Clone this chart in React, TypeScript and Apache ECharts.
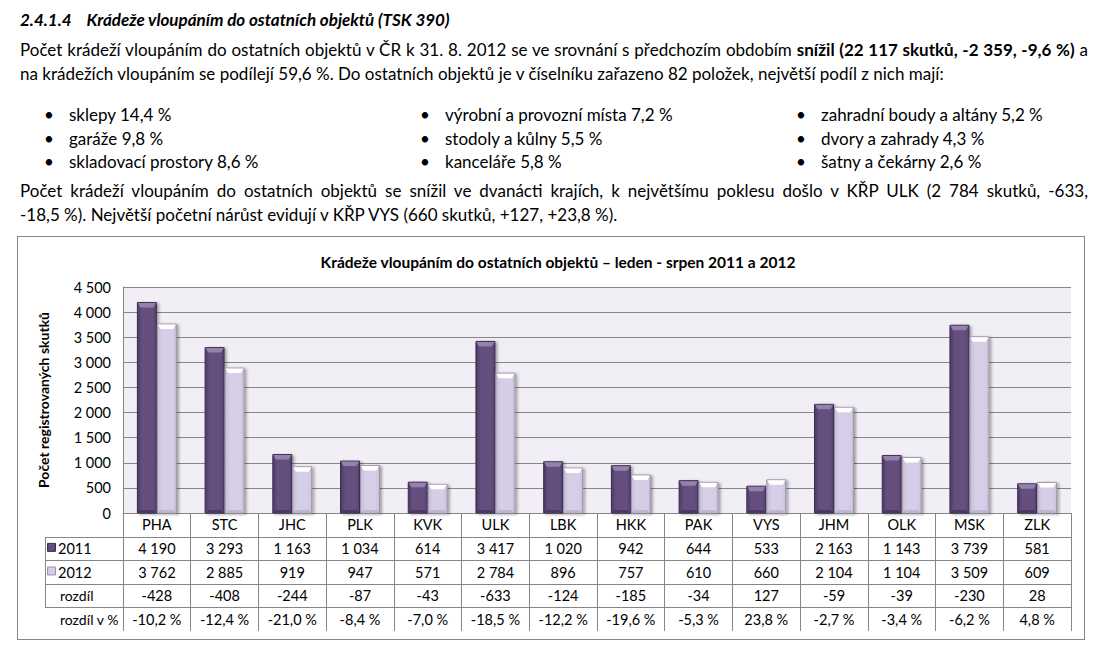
import React, { useEffect, useRef } from "react";
import * as echarts from "echarts";

const categories = ["PHA", "STC", "JHC", "PLK", "KVK", "ULK", "LBK", "HKK", "PAK", "VYS", "JHM", "OLK", "MSK", "ZLK"];
const values2011 = [4190, 3293, 1163, 1034, 614, 3417, 1020, 942, 644, 533, 2163, 1143, 3739, 581];
const values2012 = [3762, 2885, 919, 947, 571, 2784, 896, 757, 610, 660, 2104, 1104, 3509, 609];
const diffs = [-428, -408, -244, -87, -43, -633, -124, -185, -34, 127, -59, -39, -230, 28];
const diffPct = [-10.2, -12.4, -21.0, -8.4, -7.0, -18.5, -12.2, -19.6, -5.3, 23.8, -2.7, -3.4, -6.2, 4.8];
const rowLabels = ["2011", "2012", "rozdíl", "rozdíl v %"];
const seriesNames = ["2011", "2012"];
const yMax = 4500;
const yInterval = 500;

const chartTitle = "Krádeže vloupáním do ostatních objektů – leden - srpen 2011 a 2012";
const yAxisName = "Počet registrovaných skutků";

const FONT = "Lato, 'Open Sans', sans-serif";
const CHART_FS = 14.5;

const fmtInt = (n: number) => {
  const s = Math.abs(n).toString().replace(/\B(?=(\d{3})+(?!\d))/g, " ");
  return (n < 0 ? "-" : "") + s;
};
const fmtPct = (n: number) => n.toFixed(1).replace(".", ",") + " %";

// layout
const GRID_L = 123, GRID_R = 1071, GRID_T = 287, GRID_B = 513;
const ROW_H = 23.6;

const darkFill = () =>
  new echarts.graphic.LinearGradient(0, 0, 1, 0, [
    { offset: 0, color: "#4c3966" },
    { offset: 0.25, color: "#65507f" },
    { offset: 0.8, color: "#65507f" },
    { offset: 1, color: "#54416e" },
  ]);
const lightFill = () =>
  new echarts.graphic.LinearGradient(0, 0, 1, 0, [
    { offset: 0, color: "#c4bbd6" },
    { offset: 0.25, color: "#d6cee6" },
    { offset: 0.8, color: "#d6cee6" },
    { offset: 1, color: "#c9c0da" },
  ]);

function makeRender(which: number) {
  return (params: any, api: any) => {
    const idx = api.value(0);
    const val = api.value(1);
    const top = api.coord([idx, val]);
    const base = api.coord([idx, 0]);
    const band = api.size([1, 0])[0];
    const w = band * 0.28;
    const cx = top[0];
    const x0 = which === 0 ? cx - w - 0.5 : cx + 0.5;
    const ty = top[1];
    const h = base[1] - ty;
    const bev = Math.min(5, h / 2);
    const isDark = which === 0;
    return {
      type: "group",
      children: [
        {
          type: "rect",
          shape: { x: x0, y: ty, width: w, height: h },
          style: {
            fill: isDark ? darkFill() : lightFill(),
            stroke: isDark ? "#3b2d4f" : "#9c94ab",
            lineWidth: 1,
            shadowBlur: 3,
            shadowOffsetX: 2,
            shadowOffsetY: 1,
            shadowColor: "rgba(0,0,0,0.35)",
          },
        },
        {
          type: "polygon",
          shape: {
            points: [
              [x0 + 0.5, ty + 0.5],
              [x0 + w - 0.5, ty + 0.5],
              [x0 + w - 3, ty + bev],
              [x0 + 3, ty + bev],
            ],
          },
          style: { fill: isDark ? "#9482ad" : "#ffffff" },
        },
        {
          type: "polygon",
          shape: {
            points: [
              [x0 + 0.5, base[1] - 0.5],
              [x0 + w - 0.5, base[1] - 0.5],
              [x0 + w - 3, base[1] - 3],
              [x0 + 3, base[1] - 3],
            ],
          },
          style: { fill: isDark ? "#4a3863" : "#bfb5d0" },
        },
      ],
    };
  };
}

function Chart() {
  const ref = useRef<HTMLDivElement>(null);
  useEffect(() => {
    if (!ref.current) return;
    const chart = echarts.init(ref.current, null, { renderer: "svg" });
    const tableTop = GRID_B;
    const hLines: any[] = [];
    for (let k = 1; k <= rowLabels.length; k++) {
      const y = Math.round(tableTop + ROW_H * k) + 0.5;
      hLines.push({
        type: "line",
        shape: { x1: 45, y1: y, x2: GRID_R, y2: y },
        style: { stroke: "#868686", lineWidth: 1 },
      });
    }
    const leftLine = {
      type: "line",
      shape: {
        x1: 45.5,
        y1: Math.round(tableTop + ROW_H) + 0.5,
        x2: 45.5,
        y2: Math.round(tableTop + ROW_H * rowLabels.length) + 0.5,
      },
      style: { stroke: "#868686", lineWidth: 1 },
    };
    const rowTexts = rowLabels.map((t, i) => ({
      type: "text",
      x: i < 2 ? 58 : 60,
      y: tableTop + ROW_H * (i + 1) + ROW_H / 2,
      style: { text: t, fontSize: i < 2 ? CHART_FS : 14, fontFamily: FONT, fill: "#000", verticalAlign: "middle" },
    }));
    const markers = seriesNames.map((s, i) => ({
      type: "rect",
      shape: { x: 47.5, y: tableTop + ROW_H * (i + 1) + ROW_H / 2 - 5, width: 8, height: 8 },
      style: { fill: i === 0 ? darkFill() : lightFill(), stroke: i === 0 ? "#3b2d4f" : "#9c94ab", lineWidth: 1 },
    }));

    chart.setOption({
      animation: false,
      title: {
        text: chartTitle,
        left: 553,
        top: 249,
        textAlign: "center",
        textStyle: { fontFamily: FONT, fontSize: 15.5, fontWeight: "bold", color: "#000" },
      },
      grid: {
        left: GRID_L,
        right: 1110 - GRID_R,
        top: GRID_T,
        bottom: 659 - GRID_B,
        show: true,
        backgroundColor: "#f1eff5",
        borderWidth: 0,
      },
      xAxis: {
        type: "category",
        data: categories,
        axisLine: { show: true, lineStyle: { color: "#868686", width: 1 } },
        axisTick: {
          show: true,
          alignWithLabel: false,
          interval: 0,
          length: Math.round(ROW_H * 5),
          lineStyle: { color: "#868686", width: 1 },
        },
        axisLabel: {
          interval: 0,
          margin: 0,
          fontFamily: FONT,
          fontSize: CHART_FS,
          color: "#000",
          lineHeight: ROW_H,
          formatter: (value: string, idx: number) =>
            [value, fmtInt(values2011[idx]), fmtInt(values2012[idx]), fmtInt(diffs[idx]), fmtPct(diffPct[idx])].join("\n"),
        },
        splitLine: { show: false },
      },
      yAxis: {
        type: "value",
        min: 0,
        max: yMax,
        interval: yInterval,
        name: yAxisName,
        nameLocation: "middle",
        nameGap: 73,
        nameRotate: 90,
        nameTextStyle: { fontFamily: FONT, fontSize: 14, fontWeight: "bold", color: "#000" },
        axisLine: { show: true, lineStyle: { color: "#868686", width: 1 } },
        axisTick: { show: false },
        axisLabel: {
          fontFamily: FONT,
          fontSize: CHART_FS,
          color: "#000",
          margin: 12,
          formatter: (v: number) => fmtInt(v),
        },
        splitLine: { show: true, lineStyle: { color: "#878787", width: 1 } },
      },
      series: [
        {
          type: "custom",
          name: seriesNames[0],
          data: categories.map((c, i) => [i, values2011[i]]),
          encode: { x: 0, y: 1 },
          renderItem: makeRender(0),
          z: 3,
        },
        {
          type: "custom",
          name: seriesNames[1],
          data: categories.map((c, i) => [i, values2012[i]]),
          encode: { x: 0, y: 1 },
          renderItem: makeRender(1),
          z: 3,
        },
      ],
      graphic: [...hLines, leftLine, ...rowTexts, ...markers],
    });
    return () => chart.dispose();
  }, []);
  return <div ref={ref} style={{ position: "absolute", left: 0, top: 0, width: 1110, height: 659 }} />;
}

const textFont: React.CSSProperties = {
  fontFamily: FONT,
  fontSize: 17,
  color: "#000",
  whiteSpace: "nowrap",
  position: "absolute",
  lineHeight: "22px",
};

const Bullet = ({ x, y, text }: { x: number; y: number; text: string }) => (
  <>
    <div style={{ ...textFont, left: x, top: y - 11 }}>•</div>
    <div style={{ ...textFont, left: x + 25, top: y - 11 }}>{text}</div>
  </>
);

const bulletCols = [
  ["sklepy 14,4 %", "garáže 9,8 %", "skladovací prostory 8,6 %"],
  ["výrobní a provozní místa 7,2 %", "stodoly a kůlny 5,5 %", "kanceláře 5,8 %"],
  ["zahradní boudy a altány 5,2 %", "dvory a zahrady 4,3 %", "šatny a čekárny 2,6 %"],
];
const bulletX = [44, 420, 796];
const bulletY = [115, 139, 162];

export default function App() {
  const just: React.CSSProperties = { textAlign: "justify", textAlignLast: "justify", width: 1068, whiteSpace: "normal" };
  return (
    <div style={{ position: "absolute", left: 0, top: 0, width: 1110, height: 659, background: "#fff", overflow: "hidden" }}>
      <div style={{ position: "absolute", left: 17, top: 236, width: 1066, height: 402, border: "1px solid #878787", background: "#fff" }} />
      <Chart />
      <div style={{ ...textFont, left: 20, top: 9, fontWeight: "bold", fontStyle: "italic" }}>
        2.4.1.4&nbsp;&nbsp;&nbsp;&nbsp;Krádeže vloupáním do ostatních objektů (TSK 390)
      </div>
      <div style={{ ...textFont, ...just, left: 20, top: 39 }}>
        Počet krádeží vloupáním do ostatních objektů v ČR k 31. 8. 2012 se ve srovnání s předchozím obdobím{" "}
        <b>snížil (22 117 skutků, -2 359, -9,6 %)</b> a
      </div>
      <div style={{ ...textFont, left: 20, top: 63 }}>
        na krádežích vloupáním se podílejí 59,6 %. Do ostatních objektů je v číselníku zařazeno 82 položek, největší podíl z nich mají:
      </div>
      {bulletCols.map((col, ci) =>
        col.map((t, ri) => <Bullet key={ci + "-" + ri} x={bulletX[ci]} y={bulletY[ri]} text={t} />)
      )}
      <div style={{ ...textFont, ...just, left: 20, top: 180 }}>
        Počet krádeží vloupáním do ostatních objektů se snížil ve dvanácti krajích, k největšímu poklesu došlo v KŘP ULK (2 784 skutků, -633,
      </div>
      <div style={{ ...textFont, left: 20, top: 204 }}>
        -18,5 %). Největší početní nárůst evidují v KŘP VYS (660 skutků, +127, +23,8 %).
      </div>
    </div>
  );
}
